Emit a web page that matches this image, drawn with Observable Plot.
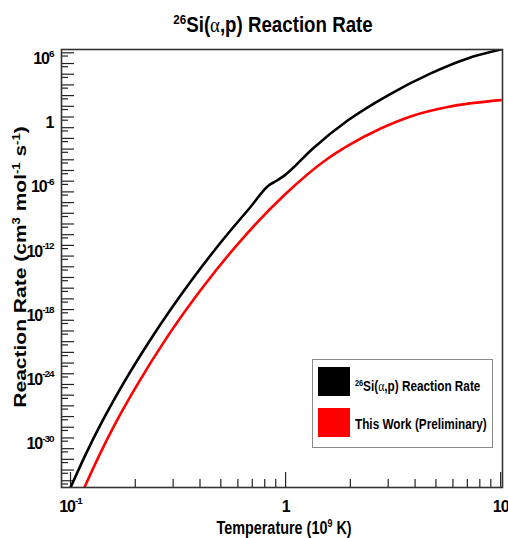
<!DOCTYPE html>
<html><head><meta charset="utf-8">
<script src="https://cdn.jsdelivr.net/npm/d3@7"></script>
<script src="https://cdn.jsdelivr.net/npm/@observablehq/plot@0.6"></script>
<style>
body{margin:0;background:#fff;}
#wrap{position:relative;width:508px;height:538px;font-family:"Liberation Sans",Arial,Helvetica,sans-serif;font-weight:bold;color:#000;overflow:hidden;}
.lbl{position:absolute;white-space:nowrap;}
.sup{font-size:0.62em;vertical-align:0.6em;}
.alpha{font-family:"Liberation Serif","Times New Roman",serif;font-weight:normal;}
</style></head>
<body><div id="wrap"></div>
<script>
// Temperature (10^9 K) and reaction rate (cm^3 mol^-1 s^-1)
const standardT    = [0.100, 0.1175, 0.141, 0.177, 0.236, 0.362, 0.509, 0.687, 0.834, 0.908, 0.99, 1.336, 1.943, 2.98, 4.73, 7.02, 10.0];
const standardRate = [2.3e-35, 2.8e-32, 4.1e-29, 1.5e-25, 1.7e-21, 4.2e-16, 3.0e-12, 3.9e-9, 4.0e-7, 1.1e-6, 3.5e-6, 1.1e-3, 0.47, 102, 1.2e4, 3.0e5, 2.0e6];
const thisWorkT    = [0.116, 0.135, 0.1585, 0.2006, 0.2858, 0.420, 0.618, 0.979, 1.567, 1.943, 2.77, 3.94, 5.67, 10.0];
const thisWorkRate = [2.3e-35, 1.7e-32, 1.07e-29, 5.0e-26, 4.3e-21, 2.0e-16, 2.7e-12, 4.3e-8, 1.26e-4, 2.0e-3, 0.085, 1.41, 8.7, 38];

const seriesColors = ["#000000", "#ff0000"];

const xLabelTicks = [0.1, 1, 10];
const xMinorTicks = [0.2,0.3,0.4,0.5,0.6,0.7,0.8,0.9,2,3,4,5,6,7,8,9];
const yLabelTicks = [1e6, 1, 1e-6, 1e-12, 1e-18, 1e-24, 1e-30];
const yDecadeTicks = d3.range(-34, 7).map(e => Math.pow(10, e));
const yHalfTicks = d3.range(-35, 6).map(e => 5 * Math.pow(10, e));

const standard = standardT.map((t, i) => ({T: t, rate: standardRate[i]}));
const thisWork = thisWorkT.map((t, i) => ({T: t, rate: thisWorkRate[i]}));

const W = 508, H = 538, mT = 49, mB = 51, mL = 61, mR = 6;
const innerW = W - mL - mR, innerH = H - mT - mB;

const powFmt = v => {
  const e = Math.round(Math.log10(v));
  if (e === 0) return "1";
  if (e === 1) return "10";
  return "10^" + e;
};

const chart = Plot.plot({
  width: W, height: H,
  marginTop: mT, marginBottom: mB, marginLeft: mL, marginRight: mR,
  style: {fontFamily: '"Liberation Sans", Arial, sans-serif', background: "#fff"},
  x: {type: "log", domain: [0.0908, 10.2]},
  y: {type: "log", domain: [2.34e-35, 2.04e6]},
  marks: [
    Plot.tickX(xLabelTicks, {x: d => d, stroke: "#222", strokeWidth: 1.2, insetTop: innerH - 15}),
    Plot.tickX(xMinorTicks, {x: d => d, stroke: "#222", strokeWidth: 1.2, insetTop: innerH - 8}),
    Plot.tickY(yDecadeTicks, {y: d => d, stroke: "#222", strokeWidth: 1.2, insetRight: innerW - 13}),
    Plot.tickY(yHalfTicks, {y: d => d, stroke: "#222", strokeWidth: 1.2, insetRight: innerW - 7}),
    Plot.line(standard, {x: "T", y: "rate", stroke: seriesColors[0], strokeWidth: 2.6, curve: "monotone-x", clip: true}),
    Plot.line(thisWork, {x: "T", y: "rate", stroke: seriesColors[1], strokeWidth: 2.6, curve: "monotone-x", clip: true}),
    Plot.frame({stroke: "#333", strokeWidth: 1.6}),
    Plot.axisX({ticks: xLabelTicks, tickSize: 0, tickPadding: 13, tickFormat: powFmt, fontSize: 16, fontWeight: "bold", label: null}),
    Plot.axisY({ticks: yLabelTicks, tickSize: 0, tickPadding: 8, tickFormat: powFmt, fontSize: 16, fontWeight: "bold", label: null, dy: 6})
  ]
});

// superscripts and size for tick labels
const NS = "http://www.w3.org/2000/svg";
chart.querySelectorAll('[aria-label$="tick label"] text').forEach(t => {
  const s = t.textContent;
  if (s.includes("^")) {
    const [b, e] = s.split("^");
    t.textContent = "";
    const t1 = document.createElementNS(NS, "tspan"); t1.textContent = b;
    const t2 = document.createElementNS(NS, "tspan"); t2.textContent = e;
    t2.setAttribute("font-size", "0.62em"); t2.setAttribute("dy", "-0.75em");
    t.appendChild(t1); t.appendChild(t2);
  }
  t.setAttribute("font-size", "16");
  t.setAttribute("font-weight", "bold");
  t.setAttribute("letter-spacing", "-1");
});

const wrap = document.getElementById("wrap");
wrap.appendChild(chart);

function addLabel(html, css) {
  const d = document.createElement("div");
  d.className = "lbl";
  d.innerHTML = html;
  Object.assign(d.style, css);
  wrap.appendChild(d);
  return d;
}

// title
addLabel('<span class="sup">26</span>Si(<span class="alpha">α</span>,p) Reaction Rate',
  {left: "273px", top: "9px", fontSize: "22px", lineHeight: "22px", transform: "translateX(-50%) scaleX(0.85)"});
// x title
addLabel('Temperature (10<span class="sup">9</span> K)',
  {left: "284px", top: "514px", fontSize: "18px", lineHeight: "18px", transform: "translateX(-50%) scaleX(0.8)"});
// y title
addLabel('Reaction Rate (cm<span class="sup">3</span> mol<span class="sup">-1</span> s<span class="sup">-1</span>)',
  {left: "18px", top: "267px", fontSize: "21px", lineHeight: "21px", transform: "translate(-50%,-50%) rotate(-90deg) scaleY(0.8)"});

// legend
const box = document.createElement("div");
Object.assign(box.style, {position: "absolute", left: "312px", top: "359px", width: "179px", height: "87px", border: "1px solid #8a8a8a", background: "#fff"});
wrap.appendChild(box);
const legendTexts = ['<span class="sup">26</span>Si(<span class="alpha">α</span>,p) Reaction Rate', 'This Work (Preliminary)'];
seriesColors.forEach((c, i) => {
  const sw = document.createElement("div");
  Object.assign(sw.style, {position: "absolute", left: "318px", top: (367 + i * 41) + "px", width: "32px", height: "29px", background: c});
  wrap.appendChild(sw);
  addLabel(legendTexts[i], {left: "355px", top: (376 + i * 41) + "px", fontSize: "14px", lineHeight: "14px", transform: "scaleX(0.84)", transformOrigin: "left center"});
});
</script>
</body></html>
